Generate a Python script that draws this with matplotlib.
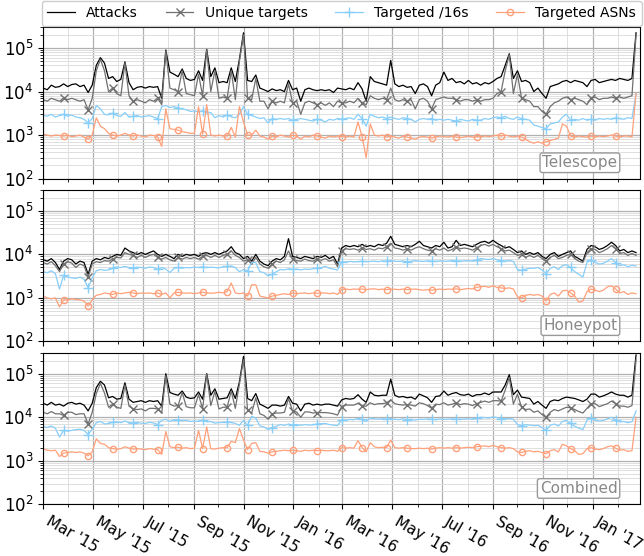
import numpy as np
import pandas as pd
import matplotlib
matplotlib.use("Agg")
import matplotlib.pyplot as plt
import matplotlib.dates as mdates
from matplotlib.ticker import LogLocator

# one sample every 5 days, values in thousands
dates = pd.date_range("2015-03-01", periods=146, freq="5D")

tel_att = [12, 11, 14, 12.5, 13, 15, 13, 14.5, 15, 13,
           14, 9.5, 14, 40, 60, 45, 20, 22, 17, 19,
           48, 16, 11, 12.5, 13, 12, 13, 12.5, 13, 7,
           90, 28, 25, 22, 33, 20, 18, 19, 30, 18,
           93, 22, 35, 16, 17, 16, 35, 17, 55, 224,
           18, 17, 24, 12, 11, 10, 11.5, 10.5, 11, 10,
           18, 11, 12, 6, 11, 12, 11, 10.5, 11, 10.5,
           11, 9.5, 12, 11.5, 11, 12, 11, 16, 11.5, 6,
           22, 17, 16, 15, 14, 52, 15, 13, 14, 12.5,
           13, 9, 14, 15, 13, 8, 14, 16, 28, 18,
           20, 16, 17, 15, 18, 15, 16, 14, 16, 15,
           17, 20, 22, 40, 74, 20, 30, 17, 18, 16,
           10, 12, 9, 7, 13, 14, 15, 17, 18, 16,
           18, 17, 16, 13, 18, 19, 16, 17, 18, 19,
           18, 20, 19, 18, 20, 224]
tel_uni = [6.5, 6, 7, 6.5, 6, 7, 6.5, 7, 6.5, 6,
           6.5, 3.8, 7, 30, 55, 30, 10, 12, 9, 8,
           45, 8, 6, 6.5, 6, 5.5, 6.5, 6, 7, 5,
           85, 12, 11, 10, 30, 9, 8.5, 8, 25, 8,
           90, 10, 30, 7, 7.5, 7, 30, 6.5, 50, 200,
           7, 6.5, 20, 6, 6, 4, 6, 5.5, 6, 5.5,
           15, 5.5, 6, 3, 5.5, 6, 5.5, 5, 5.5, 4.8,
           5.5, 4.5, 6, 5.5, 5.5, 6, 5.5, 7, 5.5, 5,
           8, 7, 6.5, 7, 6.5, 12, 6.5, 6, 6.5, 6,
           6.5, 4, 6.5, 7, 6, 4, 6.5, 7, 7.5, 7,
           7, 6.5, 6, 6.5, 6.5, 6, 6.5, 6, 6.5, 6.5,
           7, 9, 10, 30, 70, 9, 25, 7, 6.5, 6,
           4.5, 4.5, 3.5, 3, 4.5, 5.5, 6, 7, 7.5, 6.5,
           7, 6.5, 6, 5, 7, 7.5, 6.5, 7, 7, 7.5,
           7, 7.5, 7, 7.5, 8, 200]
tel_16 = [2.9, 2.7, 3.0, 2.6, 2.8, 3.0, 2.7, 2.9, 2.6, 2.5,
          2.3, 1.9, 2.4, 4.8, 4.0, 3.0, 2.9, 3.2, 2.8, 2.7,
          3.3, 2.6, 2.7, 2.8, 2.6, 2.7, 2.8, 2.6, 2.4, 4.5,
          4.8, 4.3, 4.5, 4.2, 4.0, 3.8, 3.5, 3.6, 3.4, 3.6,
          3.2, 3.3, 2.5, 2.8, 2.6, 2.9, 2.6, 2.5, 3.0, 4.5,
          3.0, 2.8, 2.6, 2.4, 2.5, 1.9, 2.4, 2.3, 2.4, 2.3,
          2.4, 2.2, 2.3, 2.4, 2.3, 2.2, 2.1, 2.3, 2.2, 2.0,
          2.3, 2.2, 2.4, 2.3, 2.4, 2.5, 2.3, 3.0, 2.4, 1.6,
          3.0, 2.7, 2.5, 2.6, 2.4, 2.6, 2.4, 2.3, 2.5, 2.4,
          2.3, 2.0, 2.3, 2.4, 2.3, 2.4, 2.2, 2.3, 2.2, 2.3,
          2.2, 2.1, 2.3, 2.2, 2.1, 2.3, 2.2, 2.2, 2.4, 2.3,
          2.5, 2.6, 2.5, 2.7, 2.4, 2.3, 2.6, 2.4, 2.3, 2.2,
          1.7, 1.6, 1.5, 1.4, 1.8, 1.9, 2.0, 2.6, 3.0, 2.2,
          2.3, 2.2, 2.4, 2.2, 2.3, 2.2, 2.4, 2.3, 2.4, 2.3,
          2.5, 2.4, 2.3, 2.5, 2.4, 9]
tel_asn = [1.05, 1.0, 0.95, 1.0, 0.98, 0.95, 1.0, 0.92, 0.95, 1.0,
           0.9, 0.8, 1.0, 2.5, 1.6, 1.4, 1.1, 1.0, 0.95, 1.0,
           1.1, 1.0, 0.95, 1.0, 0.95, 0.9, 1.0, 0.98, 0.9, 0.55,
           4.0, 1.4, 1.35, 1.3, 1.2, 1.15, 1.1, 1.1, 4.5, 1.05,
           5.0, 1.0, 0.95, 1.0, 0.95, 0.95, 1.5, 0.9, 4.5, 2.0,
           1.0, 1.0, 1.3, 0.95, 0.9, 0.8, 0.95, 0.9, 1.0, 0.95,
           0.9, 1.0, 0.95, 0.8, 0.95, 0.9, 1.0, 0.95, 0.9, 0.85,
           0.95, 0.9, 0.95, 0.92, 0.9, 0.95, 0.9, 2.0, 0.92, 0.3,
           1.8, 1.0, 0.95, 1.0, 0.9, 0.95, 0.9, 0.85, 0.95, 0.9,
           0.85, 0.8, 0.9, 0.92, 0.9, 0.85, 0.9, 0.95, 0.92, 0.9,
           0.95, 0.9, 0.88, 0.9, 0.95, 0.9, 0.92, 0.9, 0.95, 0.93,
           0.95, 1.0, 0.95, 1.0, 0.95, 0.9, 0.95, 0.9, 0.8, 0.7,
           0.65, 0.7, 0.65, 0.7, 0.75, 0.8, 0.85, 1.8, 1.6, 0.95,
           0.9, 0.95, 0.92, 0.9, 0.95, 0.9, 0.95, 0.92, 0.95, 1.0,
           0.95, 0.9, 0.95, 0.95, 0.9, 9]

hp_att = [7.6, 7, 8, 6.5, 4.5, 7, 8, 7.5, 6, 7,
          6.5, 3.5, 7, 8, 7.5, 8.5, 8, 9, 10, 9.5,
          14, 12, 11, 10, 11, 10, 11, 12, 10, 9,
          10, 9, 8, 10, 9, 10, 9.5, 10, 9, 10.5,
          11, 10, 11, 10, 11, 12, 15, 11, 10, 8,
          9, 7, 10, 7, 6, 5.5, 7, 8, 7.5, 9,
          23, 9, 8.5, 8, 9, 8.5, 8, 9, 8.5, 9.5,
          8, 9, 6, 14, 16, 15, 16, 15, 17, 15,
          16, 15, 17, 16, 18, 26, 17, 16, 15, 16,
          15, 17, 20, 16, 15, 14, 16, 15, 19, 14,
          15, 21, 16, 17, 16, 15, 17, 19, 20, 18,
          21, 18, 16, 14, 15, 13, 11, 12, 10, 11,
          10, 11, 9, 8, 10, 11, 9, 10, 11, 12,
          9, 8, 7, 13, 16, 15, 13, 14, 16, 19,
          16, 12, 13, 11, 12, 11]
hp_uni = [6.5, 6, 6.8, 5.5, 4, 6, 6.8, 6.3, 5, 6,
          5.5, 3, 6, 6.8, 6.5, 7.2, 7, 7.8, 8.5, 8.3,
          11, 10, 9.5, 8.5, 9.5, 8.5, 9.5, 10, 8.5, 7.8,
          8.5, 7.5, 7, 8.5, 7.8, 8.5, 8, 8.5, 7.8, 9,
          9.5, 8.5, 9.5, 8.5, 9.5, 10, 12, 9.5, 8.5, 7,
          7.5, 6, 8.5, 6, 5.2, 4.8, 6, 7, 6.5, 7.5,
          12, 7.8, 7.2, 7, 7.8, 7.2, 7, 7.8, 7.3, 8,
          7, 7.5, 5.2, 12, 13.5, 13, 13.5, 12.5, 14, 13,
          13.5, 12.5, 14, 13.5, 15, 18, 14, 13.5, 12.5, 13.5,
          12.5, 14, 15, 13.5, 12.5, 12, 13.5, 12.5, 14, 12,
          13, 15, 13.5, 14, 13.5, 12.5, 14, 16, 17, 15.5,
          17, 15, 13.5, 12, 12.5, 11, 9.5, 10, 8.5, 9.5,
          8.5, 9.5, 8, 7, 8.5, 9.5, 8, 8.5, 9.5, 10,
          8, 7, 6.5, 11, 13.5, 13, 11, 12, 13.5, 16,
          13.5, 10.5, 11, 9.5, 10.5, 9.5]
hp_16 = [4.0, 3.8, 4.2, 3.6, 1.6, 3.3, 3.0, 2.9, 2.8, 3.0,
         2.7, 1.7, 2.9, 4.2, 4.5, 4.3, 4.4, 4.8, 5.2, 5.0,
         5.3, 5.0, 4.9, 5.1, 5.0, 4.8, 5.1, 5.0, 4.5, 5.0,
         4.6, 3.8, 4.8, 5.0, 4.8, 5.0, 4.9, 5.1, 5.0, 5.2,
         5.0, 5.1, 5.0, 4.9, 5.2, 5.3, 5.4, 5.0, 4.0, 4.5,
         4.2, 6.5, 6.5, 4.0, 3.8, 3.2, 3.5, 4.0, 4.5, 4.4,
         4.7, 4.5, 4.6, 4.4, 4.6, 4.5, 4.7, 4.8, 5.0, 5.3,
         4.8, 4.6, 4.4, 6.8, 6.6, 6.9, 6.7, 6.8, 7.0, 6.8,
         6.9, 7.0, 6.8, 7.1, 7.0, 7.2, 7.0, 6.9, 7.1, 6.8,
         7.0, 7.2, 7.0, 6.9, 7.1, 7.0, 6.9, 7.1, 7.0, 7.0,
         7.2, 7.1, 7.0, 7.1, 7.2, 7.0, 7.4, 8.0, 7.8, 7.6,
         8.0, 7.5, 7.2, 7.0, 7.3, 6.9, 4.5, 4.3, 4.6, 4.8,
         4.8, 5.0, 4.4, 3.6, 4.8, 5.2, 4.5, 5.5, 5.8, 5.0,
         4.0, 3.5, 3.0, 6.5, 7.5, 6.5, 6.0, 6.2, 7.0, 8.0,
         6.5, 5.5, 5.8, 5.2, 5.6, 5.4]
hp_asn = [1.1, 1.0, 0.95, 1.0, 0.62, 0.9, 0.9, 0.95, 0.92, 0.9,
          0.85, 0.65, 0.9, 1.15, 1.2, 1.3, 1.25, 1.2, 1.3, 1.25,
          1.3, 1.35, 1.3, 1.25, 1.3, 1.28, 1.3, 1.25, 1.3, 1.2,
          1.3, 1.0, 1.3, 1.35, 1.3, 1.28, 1.3, 1.25, 1.3, 1.35,
          1.3, 1.28, 1.3, 1.35, 1.3, 1.4, 2.2, 1.3, 1.25, 1.3,
          1.1, 2.0, 2.0, 1.1, 1.05, 1.0, 1.1, 1.15, 1.2, 1.25,
          1.2, 1.3, 1.25, 1.28, 1.3, 1.25, 1.3, 1.28, 1.3, 1.3,
          1.25, 1.3, 1.2, 1.55, 1.6, 1.55, 1.6, 1.58, 1.6, 1.55,
          1.6, 1.62, 1.55, 1.6, 1.55, 1.6, 1.58, 1.55, 1.6, 1.55,
          1.58, 1.6, 1.55, 1.5, 1.55, 1.5, 1.55, 1.6, 1.55, 1.6,
          1.58, 1.62, 1.55, 1.6, 1.65, 1.6, 1.75, 1.8, 1.85, 1.75,
          1.9, 1.75, 1.7, 1.65, 1.7, 1.6, 1.05, 1.0, 1.15, 1.2,
          1.15, 1.2, 1.1, 0.85, 1.2, 1.3, 1.1, 1.45, 1.5, 1.3,
          1.1, 0.8, 0.85, 1.4, 1.6, 1.5, 1.4, 1.5, 1.8, 1.9,
          1.6, 1.3, 1.4, 1.2, 1.3, 1.25]

cmb_att = [21, 19, 22, 19, 20, 18, 21, 22, 20, 21,
           19, 14, 21, 48, 67, 55, 28, 30, 26, 27,
           62, 26, 22, 23, 24, 22, 24, 23, 24, 18,
           100, 37, 34, 32, 40, 29, 27, 28, 38, 26,
           100, 32, 45, 26, 27, 28, 45, 27, 65, 250,
           27, 24, 35, 20, 18, 16, 19, 19, 18, 19,
           30, 21, 20, 14, 20, 21, 19, 20, 19, 20,
           20, 19, 18, 25, 27, 26, 27, 33, 26, 22,
           38, 32, 31, 32, 32, 75, 32, 29, 30, 28,
           29, 26, 34, 31, 28, 22, 30, 31, 40, 32,
           35, 37, 33, 32, 34, 30, 33, 33, 36, 33,
           38, 38, 38, 55, 95, 33, 42, 29, 28, 27,
           20, 23, 19, 16, 23, 25, 24, 27, 29, 28,
           27, 25, 23, 26, 34, 34, 29, 31, 34, 38,
           34, 32, 32, 29, 32, 270]
cmb_uni = [13, 12, 13.5, 12, 12, 11, 13, 13, 11.5, 12,
           12, 7, 13, 35, 60, 36, 17, 20, 17, 16,
           55, 18, 15.5, 15, 15.5, 14, 16, 16, 15.5, 12.5,
           90, 20, 18, 18.5, 37, 17.5, 16.5, 16.5, 33, 15.8,
           98, 18.5, 39, 15.5, 17, 17, 40, 16, 58, 210,
           14.5, 12.5, 28, 12, 11, 9, 12, 12.5, 12.5, 13,
           27, 13.8, 13.2, 10, 13.3, 13.2, 12.5, 12.8, 12.8, 12.8,
           12.5, 12, 11.2, 17.5, 19, 19, 19, 21, 18, 18,
           21.5, 19.5, 20.5, 20.5, 21.5, 25, 20.5, 19.5, 19, 19.5,
           19, 18, 21.5, 20.5, 18.5, 16, 20, 19.5, 21.5, 19,
           20, 21.5, 19.5, 20.5, 20, 18.5, 20.5, 22, 23.5, 22,
           24, 24, 23.5, 42, 82, 20, 34, 17, 15, 15.5,
           13, 14, 11.5, 10, 13, 15, 14, 15.5, 17, 16.5,
           15, 13.5, 12.5, 16, 20.5, 20.5, 17.5, 19, 20.5, 23.5,
           20.5, 18, 18, 17, 18.5, 210]
cmb_16 = [6.2, 5.8, 6.3, 5.6, 3.5, 5.0, 4.8, 5.0, 5.2, 5.3,
          5.0, 4.0, 5.3, 7.5, 8.0, 7.0, 7.2, 7.6, 7.8, 7.5,
          8.2, 7.5, 7.4, 7.6, 7.3, 7.2, 7.6, 7.4, 6.8, 8.5,
          9.0, 8.0, 8.8, 8.6, 8.4, 8.5, 8.0, 8.2, 8.0, 8.5,
          7.8, 8.0, 7.3, 7.5, 7.6, 7.8, 7.6, 7.2, 6.5, 8.5,
          6.5, 10.5, 9.5, 6.3, 6.0, 5.2, 5.8, 6.2, 6.8, 6.5,
          7.0, 6.6, 6.8, 6.5, 6.8, 6.6, 6.7, 7.0, 7.1, 7.2,
          6.8, 6.6, 6.4, 8.8, 8.6, 8.9, 8.7, 9.5, 8.9, 8.0,
          9.6, 9.2, 9.0, 9.2, 9.0, 9.3, 9.0, 8.8, 9.2, 8.8,
          9.0, 8.6, 9.0, 8.9, 9.1, 9.0, 8.8, 9.1, 9.0, 9.0,
          9.2, 9.0, 9.0, 9.1, 9.2, 9.0, 9.4, 10.0, 9.8, 9.6,
          10.2, 9.8, 9.3, 9.2, 9.4, 9.0, 6.8, 6.4, 6.8, 6.6,
          6.4, 6.5, 5.8, 5.0, 6.5, 7.0, 6.3, 8.0, 8.5, 7.2,
          6.2, 5.6, 5.2, 8.5, 9.5, 8.5, 8.2, 8.4, 9.2, 10.0,
          8.7, 7.8, 8.0, 7.5, 7.9, 14]
cmb_asn = [1.9, 1.75, 1.7, 1.75, 1.25, 1.5, 1.55, 1.6, 1.55, 1.6,
           1.5, 1.3, 1.6, 3.2, 2.5, 2.4, 2.0, 1.9, 1.85, 1.9,
           2.1, 1.95, 1.85, 1.9, 1.85, 1.8, 1.9, 1.85, 1.8, 1.4,
           4.7, 2.1, 2.0, 2.05, 1.95, 2.0, 1.9, 1.95, 5.0, 1.9,
           6.0, 1.9, 1.85, 1.95, 2.0, 2.0, 2.8, 2.6, 5.5, 3.0,
           1.8, 2.5, 2.6, 1.65, 1.6, 1.5, 1.6, 1.65, 1.7, 1.75,
           1.7, 1.75, 1.7, 1.65, 1.75, 1.7, 1.75, 1.7, 1.75, 1.7,
           1.7, 1.75, 1.65, 2.0, 1.95, 2.0, 1.95, 2.9, 2.0, 1.6,
           2.6, 2.1, 2.0, 2.05, 2.0, 3.0, 2.0, 1.95, 2.0, 1.95,
           1.9, 1.9, 1.95, 1.9, 1.95, 1.85, 1.95, 2.0, 1.95, 2.0,
           1.95, 2.0, 1.95, 2.0, 2.05, 2.0, 2.1, 2.15, 2.2, 2.1,
           2.25, 2.1, 2.0, 1.95, 2.0, 1.9, 1.6, 1.55, 1.65, 1.7,
           1.6, 1.65, 1.55, 1.45, 1.7, 1.8, 1.6, 2.4, 2.2, 1.9,
           1.7, 1.4, 1.45, 1.9, 2.0, 1.85, 1.8, 1.9, 2.1, 2.2,
           1.95, 1.75, 1.8, 1.65, 1.7, 10]

panels = [("Telescope", tel_att, tel_uni, tel_16, tel_asn),
          ("Honeypot", hp_att, hp_uni, hp_16, hp_asn),
          ("Combined", cmb_att, cmb_uni, cmb_16, cmb_asn)]

# a marker roughly every 28 days
marks = list(np.round(np.arange(5.4, 143, 5.6)).astype(int))

fig, axes = plt.subplots(3, 1, figsize=(6.44, 5.56), dpi=100, sharex=True)
fig.subplots_adjust(left=0.067, right=0.994, top=0.951, bottom=0.093, hspace=0.076)

for ax, (name, att, uni, s16, asn) in zip(axes, panels):
    ax.plot(dates, np.array(att) * 1000, color="black", lw=0.9, label="Attacks")
    ax.plot(dates, np.array(uni) * 1000, color="#707070", lw=0.9, marker="x",
            ms=6, markevery=marks, label="Unique targets")
    ax.plot(dates, np.array(s16) * 1000, color="#87cefa", lw=0.9, marker="+",
            ms=7, markevery=marks, label="Targeted /16s")
    ax.plot(dates, np.array(asn) * 1000, color="#ffa07a", lw=0.9, marker="o",
            ms=4.5, mfc="none", markevery=marks, label="Targeted ASNs")
    ax.set_yscale("log")
    ax.set_ylim(100, 3e5)
    ax.yaxis.set_major_locator(LogLocator(base=10, numticks=10))
    ax.yaxis.set_minor_locator(LogLocator(base=10, subs=np.arange(2, 10), numticks=10))
    ax.grid(which="major", color="#b0b0b0", lw=0.9)
    ax.grid(which="minor", color="#dedede", lw=0.7)
    ax.set_axisbelow(True)
    ax.tick_params(axis="y", labelsize=12)
    ax.text(0.962, 0.055, name, transform=ax.transAxes, ha="right", va="bottom",
            fontsize=11, color="#888888",
            bbox=dict(boxstyle="round,pad=0.15", fc="white", ec="#999999"))

ax = axes[-1]
ax.set_xlim(pd.Timestamp("2015-03-01"), pd.Timestamp("2017-02-28"))
ax.xaxis.set_major_locator(mdates.MonthLocator(bymonth=[1, 3, 5, 7, 9, 11]))
ax.xaxis.set_minor_locator(mdates.MonthLocator())
ax.xaxis.set_major_formatter(mdates.DateFormatter("%b '%y"))
for lab in ax.get_xticklabels():
    lab.set_rotation(-30)
    lab.set_ha("left")
    lab.set_fontsize(11)

axes[0].legend(loc="lower center", bbox_to_anchor=(0.5, 1.0), ncol=4, fontsize=10,
               borderaxespad=0.1, columnspacing=2.0, handlelength=2.0,
               framealpha=1, edgecolor="#cccccc")

plt.savefig("out.png", dpi=100)
